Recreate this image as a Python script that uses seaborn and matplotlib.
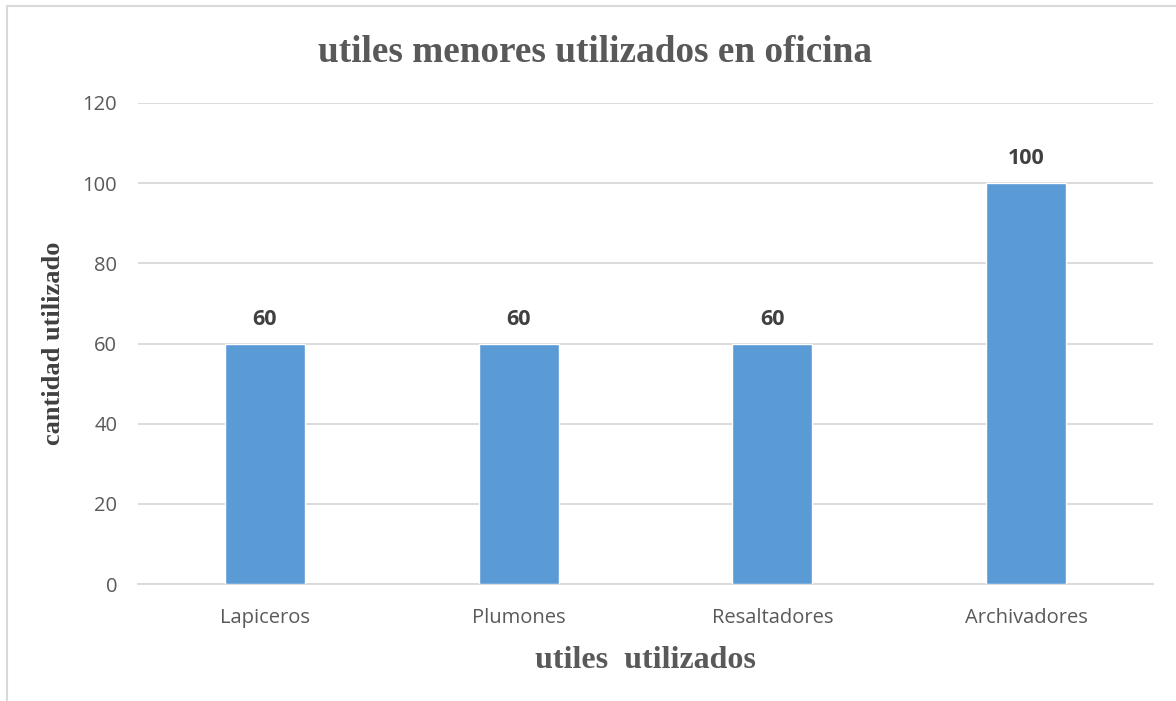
import matplotlib
matplotlib.use("Agg")
import matplotlib.pyplot as plt
import seaborn as sns
import pandas as pd

# ── Data ────────────────────────────────────────────────
categorias = ["Lapiceros", "Plumones", "Resaltadores", "Archivadores"]
cantidades = [60, 60, 60, 100]
y_ticks    = [0, 20, 40, 60, 80, 100, 120]
# ────────────────────────────────────────────────────────

BAR_COLOR  = "#5B9BD5"
GRID_COLOR = "#D9D9D9"
TEXT_GRAY  = "#595959"

sns.set_style("white")
plt.rcParams["font.family"] = ["Open Sans", "DejaVu Sans"]

df = pd.DataFrame({"categoria": categorias, "cantidad": cantidades})

fig = plt.figure(figsize=(11.76, 7.01), dpi=100)
ax = fig.add_axes([138 / 1176, 1 - 584 / 701, (1153 - 138) / 1176, (584 - 103) / 701])

sns.barplot(data=df, x="categoria", y="cantidad", color=BAR_COLOR,
            width=0.315, saturation=1, ax=ax, zorder=3)

ax.set_ylim(0, 120)
ax.set_yticks(y_ticks)
ax.set_xlim(-0.5, len(categorias) - 0.5)
ax.yaxis.grid(True, color=GRID_COLOR, linewidth=1.3, zorder=0)
ax.set_axisbelow(True)
for side in ["top", "right", "left"]:
    ax.spines[side].set_visible(False)
ax.spines["bottom"].set_color(GRID_COLOR)
ax.spines["bottom"].set_linewidth(1.3)
ax.tick_params(axis="both", length=0, labelsize=14.5, labelcolor=TEXT_GRAY)
ax.tick_params(axis="x", pad=17)
ax.tick_params(axis="y", pad=15)

for cont in ax.containers:
    ax.bar_label(cont, fmt="%d", padding=10, fontsize=15.5,
                 fontweight="bold", color="#404040")

ax.set_xlabel("utiles  utilizados", family="Liberation Serif", fontsize=23,
              fontweight="bold", color=TEXT_GRAY, labelpad=13)
ax.set_ylabel("cantidad utilizado", family="Liberation Serif", fontsize=19,
              fontweight="bold", color="#404040")
ax.yaxis.set_label_coords(-0.083, 0.5)
ax.yaxis.label.set_va("center")
fig.text(595 / 1176, 1 - 53 / 701, "utiles menores utilizados en oficina",
         family="Liberation Serif", fontsize=26.8, fontweight="bold",
         color=TEXT_GRAY, ha="center", va="center")

# chart frame (left and top edges)
fig.add_artist(plt.Line2D([7 / 1176, 7 / 1176], [0, 1 - 6 / 701],
                          color=GRID_COLOR, linewidth=1.5))
fig.add_artist(plt.Line2D([7 / 1176, 1], [1 - 6 / 701, 1 - 6 / 701],
                          color=GRID_COLOR, linewidth=1.5))

fig.savefig("out.png", dpi=100)
